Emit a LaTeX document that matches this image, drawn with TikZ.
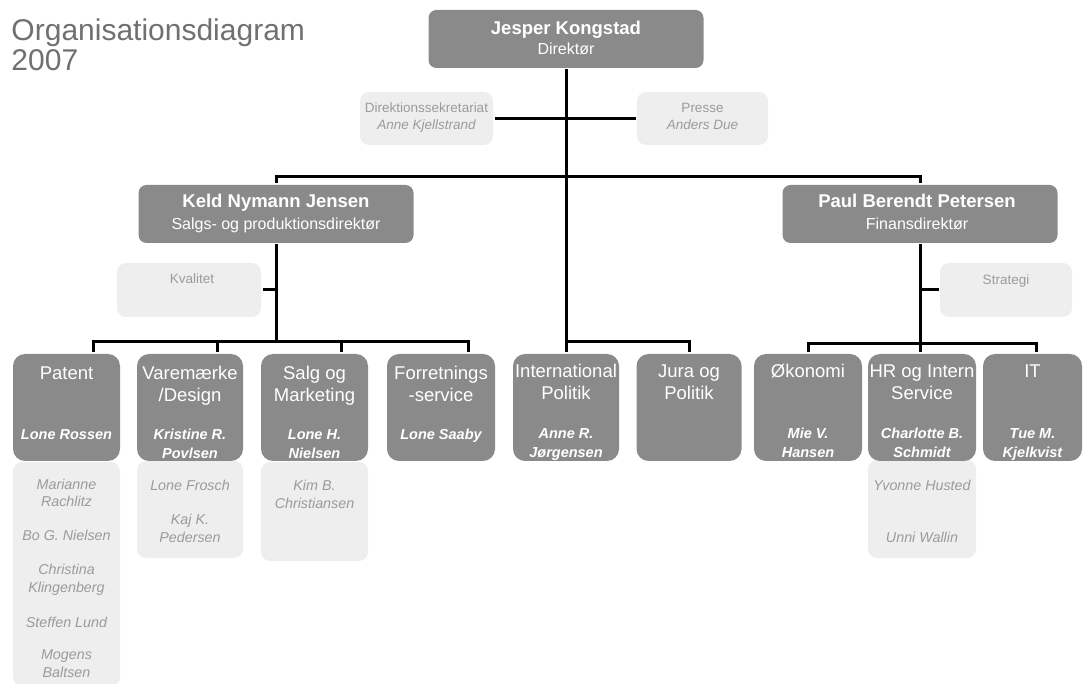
\documentclass[tikz,border=0pt]{standalone}
\usepackage{fontspec}
\setmainfont{Liberation Sans}
\definecolor{boxgray}{RGB}{138,138,138}
\definecolor{palegray}{RGB}{238,238,238}
\definecolor{stafftext}{RGB}{155,155,155}
\definecolor{headtext}{RGB}{112,112,112}
\begin{document}
\begin{tikzpicture}[x=1pt,y=-1pt,line width=3pt,
	chiefbox/.style={fill=boxgray,rounded corners=8pt,minimum width=275pt,minimum height=58pt,inner sep=0pt},
	deptbox/.style={fill=boxgray,rounded corners=12pt,minimum height=107pt,inner sep=0pt},
	asidebox/.style={fill=palegray,rounded corners=9pt,inner sep=0pt},
	chieftitle/.style={anchor=base,inner sep=0pt,text=white,font=\bfseries\fontsize{18.5}{22}\selectfont},
	chiefrole/.style={anchor=base,inner sep=0pt,text=white,font=\fontsize{16}{19}\selectfont},
	depttitle/.style={anchor=base,inner sep=0pt,align=center,text=white,font=\fontsize{18.5}{22}\selectfont},
	deptname/.style={anchor=base,inner sep=0pt,align=center,text=white,font=\bfseries\itshape\fontsize{14.5}{19.5}\selectfont},
	asidetext/.style={anchor=base,inner sep=0pt,align=center,text=stafftext,font=\fontsize{13.5}{17}\selectfont},
	stafftxt/.style={anchor=base,inner sep=0pt,align=center,text=stafftext,font=\itshape\fontsize{14.3}{17.5}\selectfont}]
	\useasboundingbox (0,0) rectangle (1085,684);
	% (base = last line of a node)
	\node[anchor=base west,inner sep=0pt,align=left,text=headtext,font=\fontsize{30}{30}\selectfont] (heading) at (10,71) {Organisationsdiagram\\2007};
	% ledelse
	\node[chiefbox] (jesper) at (566,39) {};
	\node[asidebox,minimum width=133pt,minimum height=53pt] (sekr) at (426.5,118.5) {};
	\node[asidebox,minimum width=131pt,minimum height=53pt] (presse) at (702.5,118.5) {};
	\node[chiefbox] (keld) at (276,214) {};
	\node[chiefbox] (paul) at (920,214) {};
	\node[asidebox,minimum width=144pt,minimum height=54pt] (kvalitet) at (189,290) {};
	\node[asidebox,minimum width=132pt,minimum height=54pt] (strategi) at (1006,290) {};
	% medarbejdere
	\node[asidebox,minimum width=107pt,minimum height=224pt] (patentstaff) at (66.5,574) {};
	\node[asidebox,minimum width=106pt,minimum height=97pt] (varestaff) at (190,509.5) {};
	\node[asidebox,minimum width=107pt,minimum height=99pt] (salgstaff) at (314.5,511.5) {};
	\node[asidebox,minimum width=108pt,minimum height=98pt] (hrstaff) at (922,509) {};
	% afdelinger
	\node[deptbox,minimum width=107pt] (patent) at (66.5,407.5) {};
	\node[deptbox,minimum width=106pt] (varemaerke) at (190,407.5) {};
	\node[deptbox,minimum width=107pt] (salg) at (314.5,407.5) {};
	\node[deptbox,minimum width=108pt] (forretning) at (441,407.5) {};
	\node[deptbox,minimum width=106pt] (international) at (566,407.5) {};
	\node[deptbox,minimum width=105pt] (jura) at (689,407.5) {};
	\node[deptbox,minimum width=108pt] (okonomi) at (808,407.5) {};
	\node[deptbox,minimum width=108pt] (hr) at (922,407.5) {};
	\node[deptbox,minimum width=99pt] (it) at (1032.5,407.5) {};
	\coordinate (leftbus) at ([yshift=11pt]patent.north);
	% linjer
	\draw (jesper.south) -- (jesper.south |- international.north);
	\draw (sekr.east) -- (presse.west);
	\draw (keld.north) -- ++(0,-7) -| (paul.north);
	\draw (keld.south) -- (keld.south |- leftbus);
	\draw (kvalitet.east) -- (kvalitet.east -| keld.south);
	\draw ([xshift=27pt]patent.north) -- ++(0,-11) -| ([xshift=27pt]forretning.north);
	\foreach \n in {varemaerke,salg}
		\draw ([xshift=27pt]\n.north) -- ++(0,-11);
	\draw (international.north) -- ++(0,-11) -| (jura.north);
	\draw (paul.south) -- (paul.south |- hr.north);
	\draw (strategi.west) -- (strategi.west -| paul.south);
	\draw (okonomi.north) -- ++(0,-9) -| ([xshift=4pt]it.north);
	% tekster
	\node[chieftitle] (jesperN) at (566,35) {Jesper Kongstad};
	\node[chiefrole] (jesperR) at (566,55) {Direktør};
	\node[chieftitle] (keldN) at (276,208) {Keld Nymann Jensen};
	\node[chiefrole] (keldR) at (276,230) {Salgs- og produktionsdirektør};
	\node[chieftitle] (paulN) at (917,208) {Paul Berendt Petersen};
	\node[chiefrole] (paulR) at (917,230) {Finansdirektør};
	\node[asidetext] (sekrT) at (426.5,130) {Direktionssekretariat\\\itshape Anne Kjellstrand};
	\node[asidetext] (presseT) at (702.5,130) {Presse\\\itshape Anders Due};
	\node[asidetext] (kvalitetT) at (192,284) {Kvalitet};
	\node[asidetext] (strategiT) at (1006,285) {Strategi};
	\node[depttitle] (patentT) at (66.5,380) {Patent};
	\node[depttitle] (varemaerkeT) at (190,402) {Varemærke\\/Design};
	\node[depttitle] (salgT) at (314.5,402) {Salg og\\Marketing};
	\node[depttitle] (forretningT) at (441,402) {Forretnings\\-service};
	\node[depttitle] (internationalT) at (566,400) {International\\Politik};
	\node[depttitle] (juraT) at (689,400) {Jura og\\Politik};
	\node[depttitle] (okonomiT) at (808,378) {Økonomi};
	\node[depttitle] (hrT) at (922,400) {HR og Intern\\Service};
	\node[depttitle] (itT) at (1032.5,378) {IT};
	\node[deptname] (patentN) at (66.5,439.5) {Lone Rossen};
	\node[deptname] (varemaerkeN) at (190,459) {Kristine R.\\Povlsen};
	\node[deptname] (salgN) at (314.5,459) {Lone H.\\Nielsen};
	\node[deptname] (forretningN) at (441,439.5) {Lone Saaby};
	\node[deptname] (internationalN) at (566,458) {Anne R.\\Jørgensen};
	\node[deptname] (okonomiN) at (808,458) {Mie V.\\Hansen};
	\node[deptname] (hrN) at (922,458) {Charlotte B.\\Schmidt};
	\node[deptname] (itN) at (1032.5,458) {Tue M.\\Kjelkvist};
	\node[stafftxt] (s1) at (66.5,507) {Marianne\\Rachlitz};
	\node[stafftxt] (s2) at (66.5,540) {Bo G. Nielsen};
	\node[stafftxt] (s3) at (66.5,592) {Christina\\Klingenberg};
	\node[stafftxt] (s4) at (66.5,627) {Steffen Lund};
	\node[stafftxt] (s5) at (66.5,677) {Mogens\\Baltsen};
	\node[stafftxt] (s6) at (190,490) {Lone Frosch};
	\node[stafftxt] (s7) at (190,542) {Kaj K.\\Pedersen};
	\node[stafftxt] (s8) at (314.5,508) {Kim B.\\Christiansen};
	\node[stafftxt] (s9) at (922,490) {Yvonne Husted};
	\node[stafftxt] (s10) at (922,542) {Unni Wallin};
\end{tikzpicture}
\end{document}
